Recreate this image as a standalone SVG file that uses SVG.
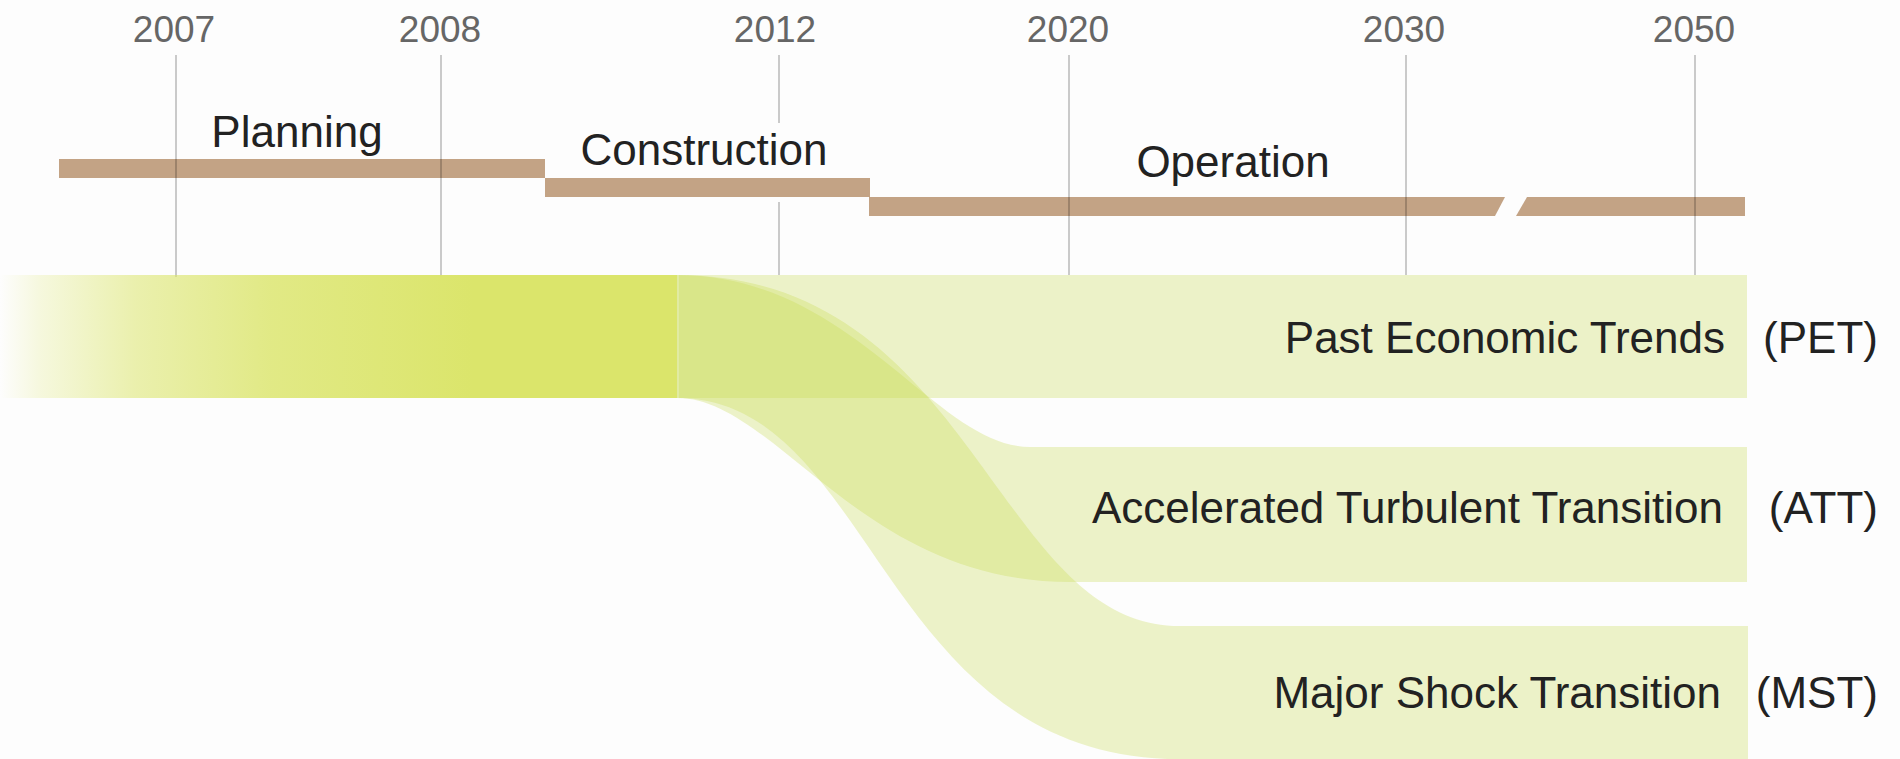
<svg xmlns="http://www.w3.org/2000/svg" width="1900" height="759" viewBox="0 0 1900 759">
  <defs>
    <style>
      .year { font-family: "Liberation Sans", Arial, sans-serif; font-size: 37px; fill: #666666; text-anchor: middle; }
      .phase { font-family: "Liberation Sans", Arial, sans-serif; font-size: 44px; fill: #222222; text-anchor: middle; }
      .label { font-family: "Liberation Sans", Arial, sans-serif; font-size: 44px; fill: #222222; text-anchor: end; }
      .tick { stroke: #000000; stroke-opacity: 0.2; stroke-width: 2; fill: none; }
      .bar { fill: #c3a385; }
      .flow { fill: #c8dc50; fill-opacity: 0.3; }
    </style>
    <linearGradient id="fadeIn" x1="0" y1="0" x2="677" y2="0" gradientUnits="userSpaceOnUse">
      <stop offset="0" stop-color="#dbe56b" stop-opacity="0"/>
      <stop offset="0.06" stop-color="#dbe56b" stop-opacity="0.22"/>
      <stop offset="0.2" stop-color="#dbe56b" stop-opacity="0.55"/>
      <stop offset="0.4" stop-color="#dbe56b" stop-opacity="0.82"/>
      <stop offset="0.7" stop-color="#dbe56b" stop-opacity="1"/>
      <stop offset="1" stop-color="#dbe56b" stop-opacity="1"/>
    </linearGradient>
  </defs>

  <rect width="1900" height="759" fill="#fdfdfd"/>

  <!-- phase bars -->
  <g id="phase-planning">
    <rect class="bar" x="59" y="159" width="486" height="19"/>
    <text class="phase" x="297" y="147">Planning</text>
  </g>
  <g id="phase-construction">
    <rect class="bar" x="545" y="178" width="325" height="19"/>
    <text class="phase" x="704" y="165">Construction</text>
  </g>
  <g id="phase-operation">
    <polygon class="bar" points="869,197 1505,197 1495,216 869,216"/>
    <polygon class="bar" points="1527,197 1745,197 1745,216 1516,216"/>
    <text class="phase" x="1233" y="177">Operation</text>
  </g>

  <!-- year axis -->
  <g id="years">
    <text class="year" x="174" y="42">2007</text>
    <line class="tick" x1="176" y1="55" x2="176" y2="277"/>
    <text class="year" x="440" y="42">2008</text>
    <line class="tick" x1="441" y1="55" x2="441" y2="277"/>
    <text class="year" x="775" y="42">2012</text>
    <line class="tick" x1="779" y1="55" x2="779" y2="123"/>
    <line class="tick" x1="779" y1="202" x2="779" y2="275"/>
    <text class="year" x="1068" y="42">2020</text>
    <line class="tick" x1="1069" y1="55" x2="1069" y2="275"/>
    <text class="year" x="1404" y="42">2030</text>
    <line class="tick" x1="1406" y1="55" x2="1406" y2="275"/>
    <text class="year" x="1694" y="42">2050</text>
    <line class="tick" x1="1695" y1="55" x2="1695" y2="275"/>
  </g>

  <!-- common trunk up to the branching point -->
  <g id="trunk">
    <rect x="0" y="275" width="677" height="123" fill="url(#fadeIn)"/>
  </g>

  <!-- branches from the trunk into each scenario -->
  <g id="connectors">
    <path class="flow" d="M677,275 C854,275 935,447 1030,447 L1070,447 L1070,582 C860,582 776,398 677,398 Z"/>
    <path class="flow" d="M677,275 C975,275 994,626 1180,626 L1180,759 C880,759 875,398 677,398 Z"/>
    <line x1="678" y1="275" x2="678" y2="398" stroke="#ffffff" stroke-opacity="0.4" stroke-width="2"/>
  </g>

  <!-- scenarios -->
  <g id="scenario-pet">
    <rect class="flow" x="677" y="275" width="1070" height="123"/>
    <text class="label" x="1725" y="353">Past Economic Trends</text>
    <text class="label" x="1878" y="353">(PET)</text>
  </g>
  <g id="scenario-att">
    <rect class="flow" x="1070" y="447" width="677" height="135"/>
    <text class="label" x="1723" y="523">Accelerated Turbulent Transition</text>
    <text class="label" x="1878" y="523">(ATT)</text>
  </g>
  <g id="scenario-mst">
    <rect class="flow" x="1180" y="626" width="568" height="133"/>
    <text class="label" x="1721" y="708">Major Shock Transition</text>
    <text class="label" x="1878" y="708">(MST)</text>
  </g>
</svg>
